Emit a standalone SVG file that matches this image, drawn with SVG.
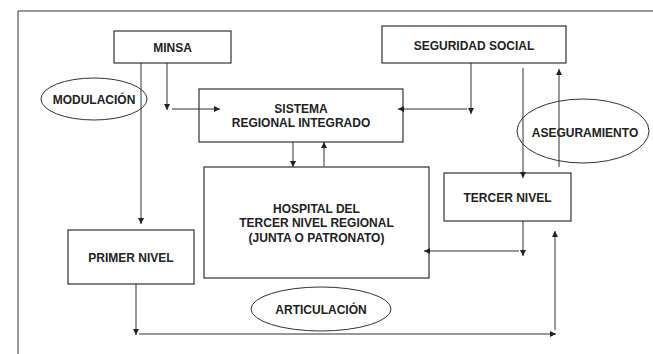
<svg xmlns="http://www.w3.org/2000/svg" width="653" height="354" viewBox="0 0 653 354">
<style>
.box{fill:#fff;stroke:#333;stroke-width:1.2}
.ell{fill:none;stroke:#333;stroke-width:1}
.ln{fill:none;stroke:#333;stroke-width:1}
text{font-family:"Liberation Sans",Arial,sans-serif;font-weight:bold;font-size:12px;fill:#222;text-anchor:middle}
</style>
<defs>
<marker id="ah" viewBox="0 0 8 8" refX="8" refY="4" markerWidth="6" markerHeight="6" markerUnits="userSpaceOnUse" orient="auto">
<path d="M0,0 L8,4 L0,8 Z" fill="#222"/>
</marker>
</defs>
<rect width="653" height="354" fill="#fff"/>
<path class="ln" d="M18,354 V11 H653" stroke="#555"/>
<g id="minsa"><rect class="box" x="114" y="31" width="117" height="32"/><text x="172.5" y="52">MINSA</text></g>
<g id="seguridad"><rect class="box" x="382" y="26" width="184" height="37"/><text x="474" y="50">SEGURIDAD SOCIAL</text></g>
<g id="modulacion"><ellipse class="ell" cx="94" cy="99" rx="53" ry="21"/><text x="94" y="104">MODULACIÓN</text></g>
<g id="sistema"><rect class="box" x="199" y="89" width="204" height="53"/><text x="301" y="113">SISTEMA</text><text x="301" y="127">REGIONAL INTEGRADO</text></g>
<g id="aseguramiento"><ellipse class="ell" cx="583" cy="131" rx="66" ry="32"/><text x="585" y="137">ASEGURAMIENTO</text></g>
<g id="hospital"><rect class="box" x="204" y="167" width="225" height="111"/><text x="316.5" y="213">HOSPITAL DEL</text><text x="316.5" y="227">TERCER NIVEL REGIONAL</text><text x="316.5" y="242">(JUNTA O PATRONATO)</text></g>
<g id="tercer"><rect class="box" x="444" y="173" width="127" height="48"/><text x="507.5" y="202">TERCER NIVEL</text></g>
<g id="primer"><rect class="box" x="68" y="230" width="126" height="54"/><text x="131" y="262">PRIMER NIVEL</text></g>
<g id="articulacion"><ellipse class="ell" cx="321" cy="309" rx="70" ry="22"/><text x="321" y="314">ARTICULACIÓN</text></g>
<g id="connectors">
<path class="ln" d="M141,63 V224" marker-end="url(#ah)"/>
<path class="ln" d="M167,63 V110" marker-end="url(#ah)"/>
<path class="ln" d="M172,109 H220" marker-end="url(#ah)"/>
<path class="ln" d="M293,142 V167" marker-end="url(#ah)"/>
<path class="ln" d="M324,166 V142" marker-end="url(#ah)"/>
<path class="ln" d="M471,63 V114" marker-end="url(#ah)"/>
<path class="ln" d="M467,109 H398" marker-end="url(#ah)"/>
<path class="ln" d="M523,68 V178" marker-end="url(#ah)"/>
<path class="ln" d="M559,167 V69" marker-end="url(#ah)"/>
<path class="ln" d="M523,221 V256" marker-end="url(#ah)"/>
<path class="ln" d="M519,251 H424" marker-end="url(#ah)"/>
<path class="ln" d="M555,330 V231" marker-end="url(#ah)"/>
<path class="ln" d="M136,284 V335" marker-end="url(#ah)"/>
<path class="ln" d="M139,334 H556" marker-end="url(#ah)"/>
</g>
</svg>
